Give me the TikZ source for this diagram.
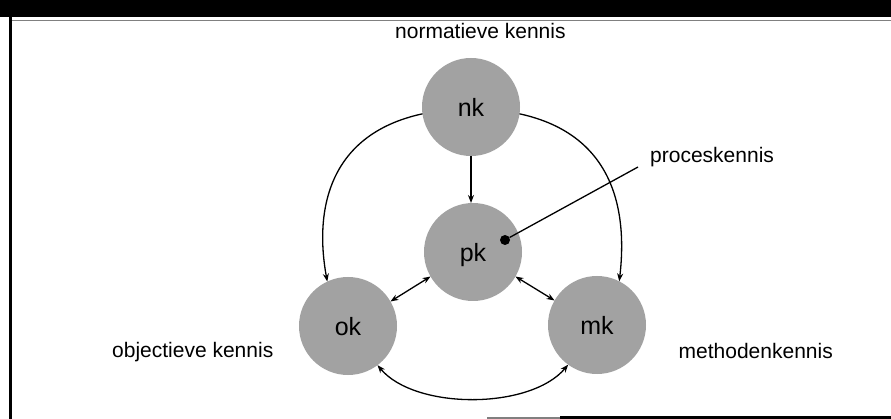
\documentclass[tikz,border=0pt]{standalone}
\usepackage{fontspec}
\setmainfont{Liberation Sans}
\usetikzlibrary{arrows.meta}
\definecolor{shade}{HTML}{A2A2A2}
\begin{document}
\begin{tikzpicture}[x=1pt,y=-1pt,
  kennis/.style={circle, fill=shade, minimum size=98pt, inner sep=0pt, outer sep=0pt,
                 font=\fontsize{25}{25}\selectfont, text depth=0pt},
  lbl/.style={font=\fontsize{21}{21}\selectfont, inner sep=0pt},
  tip/.tip={Stealth[length=8pt,width=6pt]},
  link/.style={line width=1.3pt, -tip},
  both/.style={line width=1.3pt, tip-tip}]

  % canvas and frame
  \fill[white] (0,0) rectangle (891,419);
  \useasboundingbox (0,0) rectangle (891,419);
  \fill[black] (0,0) rectangle (891,17);
  \draw[gray, line width=0.8pt] (10,20) -- (891,20);
  \draw[black, line width=3pt] (10,17) -- (10,419);
  \draw[gray, line width=2pt] (487,417.5) -- (560,417.5);
  \draw[black, line width=3pt] (560,417.5) -- (891,417.5);

  % the four kinds of knowledge
  \node[kennis] (nk) at (471,107) {nk};
  \node[kennis] (pk) at (473,252) {pk};
  \node[kennis] (ok) at (348,326) {ok};
  \node[kennis] (mk) at (597,325) {mk};

  % labels
  \node[lbl, anchor=base west] (nkl) at (395,39) {normatieve kennis};
  \node[lbl, anchor=base west] (okl) at (112,358) {objectieve kennis};
  \node[lbl, anchor=base east] (mkl) at (833,359) {methodenkennis};
  \node[lbl, anchor=base west] (pkl) at (650,163) {proceskennis};

  % pointer to the process knowledge
  \node[circle, fill=black, minimum size=10pt, inner sep=0pt] (dot) at (505,240) {};
  \coordinate (tail) at (638,167);
  \draw[line width=1.3pt] (tail) -- (dot);

  % relations
  \draw[link] (nk.south) -- (nk.south |- pk.north);
  \draw[link] (nk.188) .. controls (325,135) and (315,215) .. (ok.115);
  \draw[link] (nk.352) .. controls (617,135) and (627,215) .. (mk.63);
  \draw[both] (pk.210) -- (ok.30);
  \draw[both] (pk.330) -- (mk.150);
  \draw[both] (ok.307) .. controls (415,410) and (530,410) .. (mk.234);
\end{tikzpicture}
\end{document}
